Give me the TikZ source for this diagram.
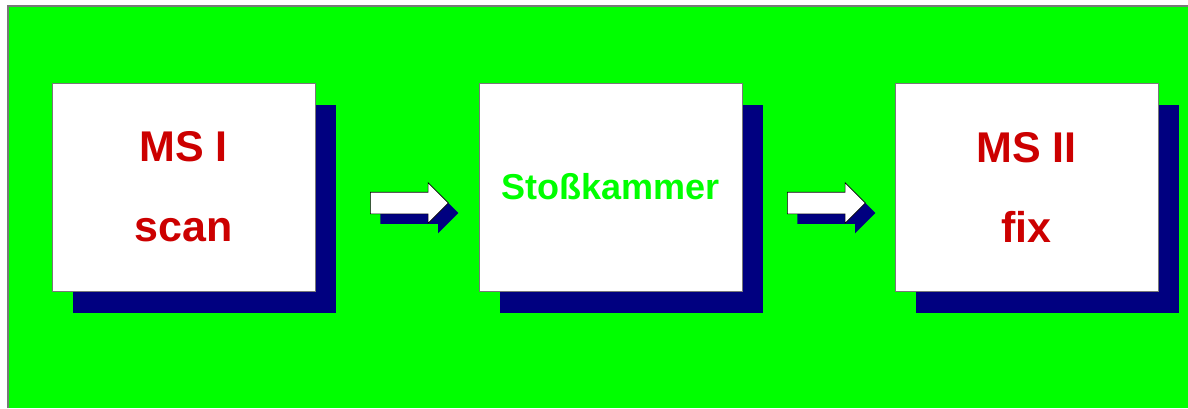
\documentclass[tikz,border=0pt]{standalone}
\usepackage{fontspec}
\setmainfont{Liberation Sans}
\usetikzlibrary{shapes.arrows,shadows}
\definecolor{bggreen}{RGB}{0,255,0}
\definecolor{shadownavy}{RGB}{0,0,128}
\definecolor{labelred}{RGB}{204,0,0}
\definecolor{framegray}{RGB}{120,120,120}
\tikzset{
  stage/.style={draw=framegray, line width=0.8pt, fill=white,
    minimum width=263pt, minimum height=208pt, inner sep=0pt,
    drop shadow={shadow xshift=21pt, shadow yshift=-22pt, fill=shadownavy, opacity=1}},
  redlabel/.style={text=labelred, font=\bfseries\fontsize{43}{80}\selectfont, align=center},
  greenlabel/.style={text=bggreen, font=\bfseries\fontsize{36}{40}\selectfont},
  flow/.style={single arrow, draw=black, line width=0.6pt, fill=white,
    minimum width=40pt, minimum height=78pt, single arrow head extend=9.5pt,
    single arrow head indent=0pt, inner xsep=0pt, inner ysep=10.5pt,
    drop shadow={shadow xshift=10pt, shadow yshift=-10pt, fill=shadownavy, opacity=1}}
}
\begin{document}
\begin{tikzpicture}[x=1pt,y=-1pt]
  \useasboundingbox (0,0) rectangle (1188,408);
  \fill[white] (0,0) rectangle (1188,408);
  % green panel; only its top and left frame edges lie on the page
  \fill[bggreen] (7,5) rectangle (1188,408);
  \draw[framegray, line width=2pt] (8,408) -- (8,6) -- (1188,6);
  % the three stages
  \node[stage] (box1) at (183.5,187) {};
  \node[stage] (box2) at (610.5,187) {};
  \node[stage] (box3) at (1026.5,187) {};
  \node[redlabel] (t1) at (box1.center) {MS I\\scan};
  \node[greenlabel] (t2) at (box2.center) {Stoßkammer};
  \node[redlabel] (t3) at (box3.center) {MS II\\fix};
  % block arrows between the stages
  \node[flow] (arr1) at (404,203) {};
  \node[flow] (arr2) at (821,203) {};
\end{tikzpicture}
\end{document}
